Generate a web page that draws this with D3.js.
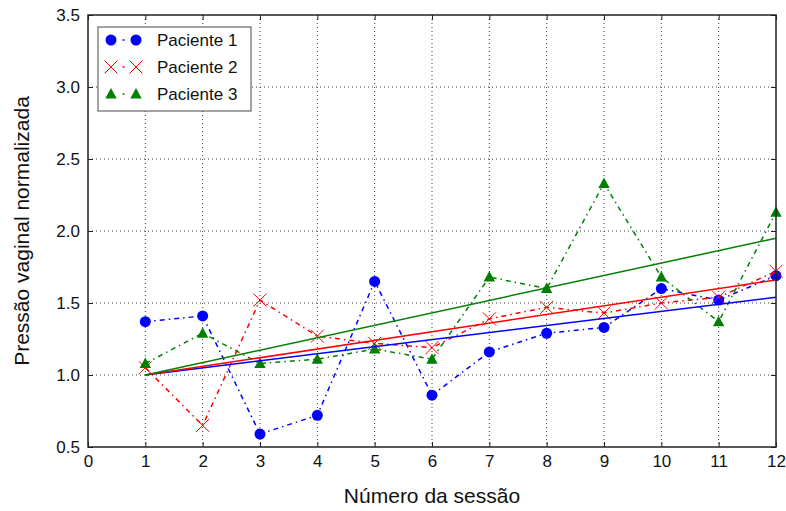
<!DOCTYPE html>
<html>
<head>
<meta charset="utf-8">
<script src="https://cdn.jsdelivr.net/npm/d3@7"></script>
<style>
  html, body { margin: 0; padding: 0; background: #fff; }
  svg { display: block; font-family: "Liberation Sans", Arial, Helvetica, sans-serif; }
</style>
</head>
<body>
<svg id="chart" width="786" height="511"></svg>
<script>
// Session numbers
const sessions = [1, 2, 3, 4, 5, 6, 7, 8, 9, 10, 11, 12];

// Normalised vaginal pressure per patient
const paciente1 = [1.37, 1.41, 0.59, 0.72, 1.65, 0.86, 1.16, 1.29, 1.33, 1.60, 1.52, 1.69];
const paciente2 = [1.05, 0.65, 1.52, 1.27, 1.22, 1.19, 1.39, 1.47, 1.43, 1.50, 1.54, 1.72];
const paciente3 = [1.08, 1.29, 1.08, 1.11, 1.18, 1.11, 1.68, 1.60, 2.33, 1.68, 1.37, 2.13];

// Linear trend per patient (value at first and last session)
const trendStart = [1.0, 1.0, 1.0];
const trendEnd = [1.54, 1.66, 1.95];

const seriesNames = ["Paciente 1", "Paciente 2", "Paciente 3"];
const seriesColors = ["#0000ff", "#ff0000", "#007f00"];
const seriesMarkers = ["circle", "cross", "triangle"];

const xTicks = [0, 1, 2, 3, 4, 5, 6, 7, 8, 9, 10, 11, 12];
const yTicks = [0.5, 1.0, 1.5, 2.0, 2.5, 3.0, 3.5];

const xLabel = "Número da sessão";
const yLabel = "Pressão vaginal normalizada";

const svg = d3.select("#chart");
const m = { left: 88, right: 776, top: 15, bottom: 447 };

const x = d3.scaleLinear().domain([0, 12]).range([m.left, m.right]);
const y = d3.scaleLinear().domain([0.5, 3.5]).range([m.bottom, m.top]);

// Grid
const grid = svg.append("g").attr("stroke", "#000").attr("stroke-width", 1)
  .attr("stroke-dasharray", "1,3").attr("opacity", 0.75);
xTicks.slice(1, -1).forEach(t => {
  grid.append("line").attr("x1", x(t)).attr("x2", x(t)).attr("y1", m.top).attr("y2", m.bottom);
});
yTicks.slice(1, -1).forEach(t => {
  grid.append("line").attr("x1", m.left).attr("x2", m.right).attr("y1", y(t)).attr("y2", y(t));
});

// Axes (ticks point inward, on all four sides)
const tickFont = "17px";
const axB = svg.append("g").attr("transform", `translate(0,${m.bottom})`)
  .call(d3.axisBottom(x).tickValues(xTicks).tickFormat(d3.format("d")).tickSizeInner(-5).tickSizeOuter(0).tickPadding(8));
const axT = svg.append("g").attr("transform", `translate(0,${m.top})`)
  .call(d3.axisTop(x).tickValues(xTicks).tickFormat("").tickSizeInner(-5).tickSizeOuter(0));
const axL = svg.append("g").attr("transform", `translate(${m.left},0)`)
  .call(d3.axisLeft(y).tickValues(yTicks).tickFormat(d3.format(".1f")).tickSizeInner(-5).tickSizeOuter(0).tickPadding(8));
const axR = svg.append("g").attr("transform", `translate(${m.right},0)`)
  .call(d3.axisRight(y).tickValues(yTicks).tickFormat("").tickSizeInner(-5).tickSizeOuter(0));
[axB, axT, axL, axR].forEach(a => {
  a.select(".domain").remove();
  a.selectAll(".tick line").attr("stroke", "#222").attr("stroke-width", 1);
  a.selectAll("text").attr("font-size", tickFont).attr("fill", "#111")
    .attr("font-family", "'Liberation Sans', Arial, sans-serif");
});

// Marker drawing helper
function drawMarker(g, kind, cx, cy, color) {
  if (kind === "circle") {
    g.append("circle").attr("cx", cx).attr("cy", cy).attr("r", 5.5).attr("fill", color);
  } else if (kind === "cross") {
    const s = 6.5;
    g.append("path").attr("d", `M${cx - s},${cy - s}L${cx + s},${cy + s}M${cx - s},${cy + s}L${cx + s},${cy - s}`)
      .attr("stroke", color).attr("stroke-width", 1).attr("fill", "none");
  } else {
    const s = 6;
    g.append("path").attr("d", `M${cx},${cy - s}L${cx + s * 0.95},${cy + s * 0.75}L${cx - s * 0.95},${cy + s * 0.75}Z`)
      .attr("fill", color);
  }
}

const allSeries = [paciente1, paciente2, paciente3];
const line = d3.line().x(d => x(d[0])).y(d => y(d[1]));

const plot = svg.append("g");
allSeries.forEach((vals, i) => {
  const pts = sessions.map((s, k) => [s, vals[k]]);
  plot.append("path").datum(pts).attr("d", line)
    .attr("fill", "none").attr("stroke", seriesColors[i]).attr("stroke-width", 1.5)
    .attr("stroke-dasharray", "5,4,1.5,4");
  const mg = plot.append("g");
  pts.forEach(p => drawMarker(mg, seriesMarkers[i], x(p[0]), y(p[1]), seriesColors[i]));
});

// Trend lines
allSeries.forEach((vals, i) => {
  const pts = [[sessions[0], trendStart[i]], [sessions[sessions.length - 1], trendEnd[i]]];
  plot.append("path").datum(pts).attr("d", line)
    .attr("fill", "none").attr("stroke", seriesColors[i]).attr("stroke-width", 1.5);
});

// Frame
svg.append("rect").attr("x", m.left).attr("y", m.top).attr("width", m.right - m.left).attr("height", m.bottom - m.top)
  .attr("fill", "none").attr("stroke", "#222").attr("stroke-width", 1.5);

// Legend
const lg = svg.append("g");
lg.append("rect").attr("x", 98).attr("y", 27).attr("width", 153).attr("height", 84)
  .attr("fill", "#fff").attr("stroke", "#666").attr("stroke-width", 1.2);
seriesNames.forEach((name, i) => {
  const cy = 40 + i * 27;
  lg.append("line").attr("x1", 111).attr("x2", 136).attr("y1", cy).attr("y2", cy)
    .attr("stroke", seriesColors[i]).attr("stroke-width", 1.5).attr("stroke-dasharray", "0,11.5,2,20");
  drawMarker(lg, seriesMarkers[i], 111, cy, seriesColors[i]);
  drawMarker(lg, seriesMarkers[i], 136, cy, seriesColors[i]);
  lg.append("text").attr("x", 157).attr("y", cy + 6).attr("font-size", "17px").attr("fill", "#111").text(name);
});

// Axis titles
svg.append("text").attr("x", (m.left + m.right) / 2).attr("y", 503).attr("text-anchor", "middle")
  .attr("font-size", "21px").attr("fill", "#111").text(xLabel);
svg.append("text").attr("transform", `translate(29,${(m.top + m.bottom) / 2}) rotate(-90)`)
  .attr("text-anchor", "middle").attr("font-size", "21px").attr("fill", "#111").text(yLabel);
</script>
</body>
</html>
